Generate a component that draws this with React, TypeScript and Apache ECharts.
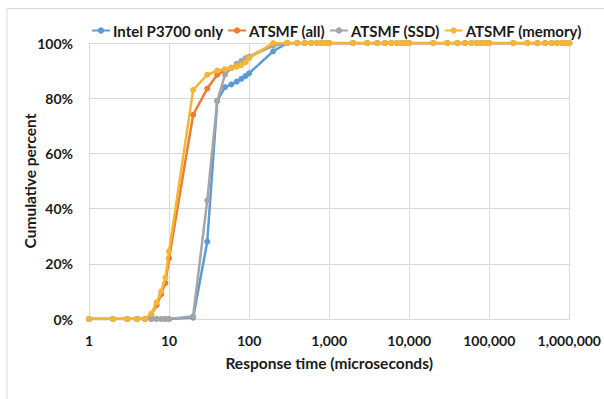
import React, { useEffect, useRef } from "react";
import * as echarts from "echarts";

const xValues = [
  1, 2, 3, 4, 5, 6, 7, 8, 9, 10,
  20, 30, 40, 50, 60, 70, 80, 90, 100,
  200, 300, 400, 500, 600, 700, 800, 900, 1000,
  2000, 3000, 4000, 5000, 6000, 7000, 8000, 9000, 10000,
  20000, 30000, 40000, 50000, 60000, 70000, 80000, 90000, 100000,
  200000, 300000, 400000, 500000, 600000, 700000, 800000, 900000, 1000000,
];

const tail = (n: number) => Array(n).fill(100);

const intelP3700 = [
  0, 0, 0, 0, 0, 0, 0, 0, 0, 0,
  0.5, 28, 79, 84, 85, 86, 87, 88, 89,
  97, ...tail(44),
];
const atsmfAll = [
  0, 0, 0, 0, 0, 1.5, 5, 9, 13, 22,
  74, 83.5, 88.5, 90, 91, 91.5, 92.5, 93.5, 95,
  99.5, ...tail(44),
];
const atsmfSsd = [
  0, 0, 0, 0, 0, 0, 0, 0, 0, 0,
  1, 43, 79, 88.5, 91, 92.5, 93.5, 94.5, 95,
  99, ...tail(44),
];
const atsmfMemory = [
  0, 0, 0, 0, 0, 2, 6, 10, 15, 24.5,
  83, 88.5, 90, 90.5, 91, 91.5, 92, 93, 94.5,
  100, ...tail(44),
];

const seriesNames = ["Intel P3700 only", "ATSMF (all)", "ATSMF (SSD)", "ATSMF (memory)"];
const seriesColors = ["#5B9BD5", "#ED7D31", "#A5A5A5", "#F6B533"];
const seriesValues = [intelP3700, atsmfAll, atsmfSsd, atsmfMemory];

const FONT = "Lato";
const TEXT = "#1a1a1a";

export default function App() {
  const ref = useRef<HTMLDivElement>(null);
  useEffect(() => {
    if (!ref.current) return;
    const chart = echarts.init(ref.current, null, { renderer: "svg" });
    chart.setOption({
      animation: false,
      backgroundColor: "#ffffff",
      textStyle: { fontFamily: FONT },
      graphic: [
        {
          type: "rect",
          shape: { x: 7, y: 8.5, width: 620, height: 420 },
          style: { fill: "none", stroke: "#d9d9d9", lineWidth: 1 },
          silent: true,
        },
      ],
      legend: {
        top: 18,
        left: 86,
        itemWidth: 18,
        itemHeight: 8,
        itemGap: 4,
        textStyle: { fontFamily: FONT, fontWeight: "bold", fontSize: 15, color: TEXT, padding: [0, 0, 0, -2] },
        data: seriesNames,
      },
      grid: { left: 89, right: 33, top: 43, bottom: 80 },
      xAxis: {
        type: "log",
        logBase: 10,
        min: 1,
        max: 1000000,
        name: "Response time (microseconds)",
        nameLocation: "middle",
        nameGap: 36,
        nameTextStyle: { fontFamily: FONT, fontWeight: "bold", fontSize: 15.5, color: TEXT },
        axisLine: { show: true, lineStyle: { color: "#d9d9d9", width: 1 } },
        axisTick: { show: false },
        splitLine: { show: true, lineStyle: { color: "#d9d9d9", width: 1 } },
        minorSplitLine: { show: false },
        axisLabel: {
          margin: 14,
          fontFamily: FONT,
          fontWeight: "bold",
          fontSize: 14,
          color: TEXT,
          formatter: (v: number) => Math.round(v).toLocaleString("en-US"),
        },
      },
      yAxis: {
        type: "value",
        min: 0,
        max: 100,
        interval: 20,
        name: "Cumulative percent",
        nameLocation: "middle",
        nameGap: 51,
        nameMoveOverlap: false,
        nameTextStyle: { fontFamily: FONT, fontWeight: "bold", fontSize: 15.5, color: TEXT },
        axisLine: { show: false },
        axisTick: { show: false },
        splitLine: { show: true, lineStyle: { color: "#d9d9d9", width: 1 } },
        axisLabel: {
          margin: 16,
          fontFamily: FONT,
          fontWeight: "bold",
          fontSize: 14,
          color: TEXT,
          formatter: "{value}%",
        },
      },
      series: seriesNames.map((name, i) => ({
        name,
        type: "line",
        data: xValues.map((x, j) => [x, seriesValues[i][j]]),
        symbol: "circle",
        symbolSize: 6,
        showSymbol: true,
        lineStyle: { color: seriesColors[i], width: 2.5 },
        itemStyle: { color: seriesColors[i] },
        z: 2 + i,
      })),
    });
    return () => chart.dispose();
  }, []);
  return (
    <div
      ref={ref}
      style={{ position: "fixed", left: 0, top: 0, width: 604, height: 399 }}
    />
  );
}
